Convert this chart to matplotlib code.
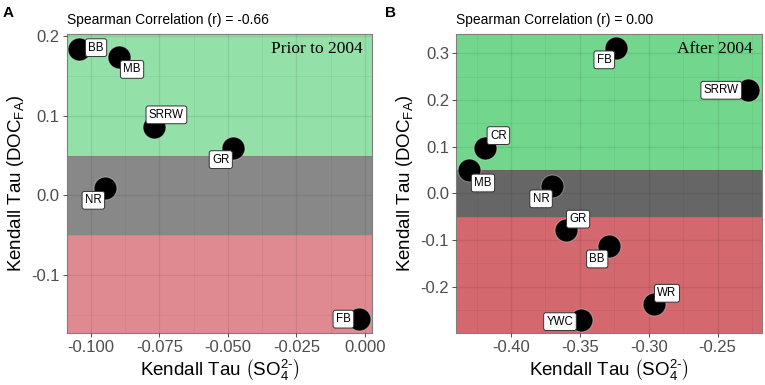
import matplotlib
matplotlib.use("Agg")
import matplotlib.pyplot as plt
from matplotlib.ticker import MultipleLocator, AutoMinorLocator

plt.rcParams['font.family'] = ['Liberation Sans', 'DejaVu Sans']
plt.rcParams['mathtext.fontset'] = 'custom'
plt.rcParams['mathtext.rm'] = 'Liberation Sans'
plt.rcParams['mathtext.it'] = 'Liberation Sans:italic'
plt.rcParams['mathtext.bf'] = 'Liberation Sans:bold'

# ---- Data ----
sites_a = ["BB", "MB", "SRRW", "GR", "NR", "FB"]
so4_a = [-0.1043, -0.0897, -0.0768, -0.0482, -0.0947, -0.0020]
doc_a = [0.184, 0.173, 0.086, 0.060, 0.009, -0.155]
offs_a = [(17, 1), (13, -12), (12, 12), (-12, -12), (-12, -12), (-16, 0)]

sites_b = ["FB", "SRRW", "CR", "MB", "NR", "GR", "BB", "WR", "YWC"]
so4_b = [-0.3236, -0.2278, -0.4186, -0.4305, -0.3702, -0.3600, -0.3287, -0.2962, -0.3492]
doc_b = [0.312, 0.221, 0.098, 0.050, 0.016, -0.079, -0.113, -0.238, -0.271]
offs_b = [(-12, -12), (-27, 0), (13, 12), (14, -13), (-11, -13), (12, 11), (-12, -13), (13, 11), (-21, -2)]

band_hi = 0.05
band_lo = -0.05

r_a = "-0.66"
r_b = "0.00"
period_a = "Prior to 2004"
period_b = "After 2004"

fig = plt.figure(figsize=(7.65, 3.85), dpi=100)
axA = fig.add_axes([0.0872, 0.1358, 0.3991, 0.7751])
axB = fig.add_axes([0.5961, 0.1358, 0.4004, 0.7751])

def draw(ax, x, y, names, offs, xlim, ylim, xmaj, ymaj, xfmt, yfmt, cols, r, period):
    ax.set_xlim(*xlim)
    ax.set_ylim(*ylim)
    ax.axhspan(band_hi, ylim[1] + 1, color=cols[0], zorder=0, lw=0)
    ax.axhspan(band_lo, band_hi, color=cols[1], zorder=0, lw=0)
    ax.axhspan(ylim[0] - 1, band_lo, color=cols[2], zorder=0, lw=0)
    ax.xaxis.set_major_locator(MultipleLocator(xmaj))
    ax.yaxis.set_major_locator(MultipleLocator(ymaj))
    ax.xaxis.set_minor_locator(AutoMinorLocator(2))
    ax.yaxis.set_minor_locator(AutoMinorLocator(2))
    ax.xaxis.set_major_formatter(plt.FormatStrFormatter(xfmt))
    ax.yaxis.set_major_formatter(plt.FormatStrFormatter(yfmt))
    ax.grid(which='major', color='black', alpha=0.08, lw=0.9, zorder=1)
    ax.grid(which='minor', color='black', alpha=0.05, lw=0.6, zorder=1)
    ax.set_axisbelow(False)
    ax.scatter(x, y, s=270, c='black', edgecolors=(1, 1, 1, 0.35), linewidths=0.8, zorder=3)
    for xi, yi, nm, (dx, dy) in zip(x, y, names, offs):
        ax.annotate(nm, (xi, yi), xytext=(dx, dy), textcoords='offset pixels',
                    ha='center', va='center', fontsize=8.3, color='black', zorder=5,
                    bbox=dict(boxstyle='round,pad=0.25,rounding_size=0.2', fc='white', ec='#333333', lw=0.7))
    ax.tick_params(which='major', length=3, width=0.6, color='#333333', labelsize=12,
                   labelcolor='#4d4d4d', pad=2)
    ax.tick_params(which='minor', length=0)
    for sp in ax.spines.values():
        sp.set_color('#7f7f7f')
        sp.set_linewidth(0.8)
    ax.set_xlabel(r'Kendall Tau $\left(\mathrm{SO_4^{2\text{-}}}\right)$', fontsize=13.5, labelpad=2)
    ax.set_ylabel(r'Kendall Tau $\left(\mathrm{DOC_{FA}}\right)$', fontsize=13.5, labelpad=4)
    ax.text(0.0, 1.025, "Spearman Correlation (r) = " + r, transform=ax.transAxes,
            ha='left', va='bottom', fontsize=10)
    ax.text(0.97, 0.95, period, transform=ax.transAxes, ha='right', va='center',
            fontsize=12.5, family='Liberation Serif', zorder=6)
    return ax

draw(axA, so4_a, doc_a, sites_a, offs_a, (-0.1088, 0.0026), (-0.172, 0.202),
     0.025, 0.1, '%.3f', '%.1f', ['#93e0a8', '#888888', '#df8a90'], r_a, period_a)
draw(axB, so4_b, doc_b, sites_b, offs_b, (-0.4399, -0.2176), (-0.299, 0.341),
     0.05, 0.1, '%.2f', '%.1f', ['#72d68c', '#666666', '#d3686f'], r_b, period_b)

fig.text(0.004, 0.965, "A", fontsize=11, fontweight='bold', ha='left', va='center')
fig.text(0.503, 0.965, "B", fontsize=11, fontweight='bold', ha='left', va='center')

fig.savefig("out.png", dpi=100)
